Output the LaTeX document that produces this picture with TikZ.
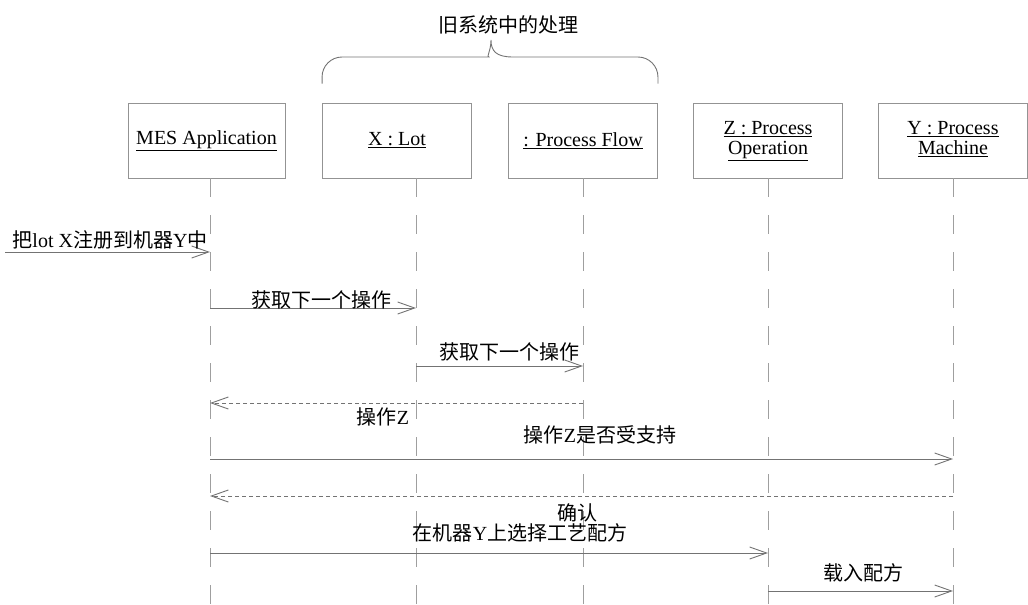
\documentclass[tikz,border=0pt]{standalone}
\usepackage{fontspec}
\setmainfont{Liberation Serif}
\newfontfamily\cjk{Noto Sans CJK SC}
\usetikzlibrary{arrows.meta, positioning, calc}
\newcommand{\zh}[1]{{\cjk #1}}
\newcommand{\twoline}[2]{\begin{tabular}{@{}c@{}}\underline{#1}\\\underline{#2}\end{tabular}}
\tikzset{
    lifebox/.style={
        rectangle, draw=gray!85, line width=0.9pt,
        minimum width=149pt, minimum height=75pt,
        align=center, inner sep=2pt,
        font=\fontsize{20}{20}\selectfont,
    },
    lifeline/.style={
        draw=gray!75, line width=0.9pt,
        dash pattern=on 19pt off 18pt,
    },
    msg/.style={
        -{Straight Barb[length=17pt, width=12pt]},
        draw=gray!90!black, line width=0.9pt,
    },
    reply/.style={
        msg, dash pattern=on 4pt off 3pt,
    },
    msglabel/.style={
        font=\fontsize{20}{20}\selectfont, inner sep=0pt,
    },
}

\begin{document}
\begin{tikzpicture}[x=1pt, y=-1pt]
    \useasboundingbox (0,0) rectangle (1028,605);

    % -- Lifeline heads --
    \node[lifebox, minimum width=157pt] (mes)  at (206.5,140.5) {\underline{MES Application}};
    \node[lifebox] (lot)  at (397,140.5) {\underline{X : Lot}};
    \node[lifebox] (flow) at (583,140.5) {\underline{: Process Flow}};
    \node[lifebox] (oper) at (768,140.5) {\twoline{Z : Process}{Operation}};
    \node[lifebox] (mach) at (953,140.5) {\twoline{Y : Process}{Machine}};

    % -- Lifelines --
    \coordinate (mes-top)  at (210,178);
    \coordinate (lot-top)  at (416,178);
    \coordinate (flow-top) at (flow.south);
    \coordinate (oper-top) at (oper.south);
    \coordinate (mach-top) at (mach.south);
    \foreach \who in {mes, lot, flow, oper, mach} {
        \coordinate (\who-end) at (\who-top |- 0,605);
        \draw[lifeline] (\who-top) -- (\who-end);
    }

    % -- Brace over the old system --
    \coordinate (tip) at (491,40);
    \coordinate (brace-l) at ([yshift=19pt]lot.north west);
    \coordinate (brace-r) at ([yshift=19pt]flow.north east);
    \draw[draw=gray!90!black, line width=0.9pt]
        (brace-l) [rounded corners=20pt] |- (469,57)
        [sharp corners] .. controls (486,57) and (491,51) .. (tip)
        .. controls (491,51) and (496,57) .. (513,57)
        [rounded corners=20pt] -| (brace-r);
    \node[msglabel] (old) at (508,25) {\zh{旧系统中的处理}};

    % -- Message rows --
    \coordinate (r1) at (0,252);
    \coordinate (r2) at (0,308);
    \coordinate (r3) at (0,366);
    \coordinate (r4) at (0,403);
    \coordinate (r5) at (0,459);
    \coordinate (r6) at (0,496);
    \coordinate (r7) at (0,553);
    \coordinate (r8) at (0,591);
    \coordinate (start) at (5,252);

    % -- Messages --
    \draw[msg]   (start)      -- (mes-top |- r1);
    \draw[msg]   (mes-top |- r2)  -- (lot-top |- r2);
    \draw[msg]   (lot-top |- r3)  -- (flow-top |- r3);
    \draw[reply] (flow-top |- r4) -- (mes-top |- r4);
    \draw[msg]   (mes-top |- r5)  -- (mach-top |- r5);
    \draw[reply] (mach-top |- r6) -- (mes-top |- r6);
    \draw[msg]   (mes-top |- r7)  -- (oper-top |- r7);
    \draw[msg]   (oper-top |- r8) -- (mach-top |- r8);

    % -- Message labels --
    \node[msglabel] (l1) at (110,240) {\zh{把}lot X\zh{注册到机器}Y\zh{中}};
    \node[msglabel] (l2) at (321,300) {\zh{获取下一个操作}};
    \node[msglabel] (l3) at (509,352) {\zh{获取下一个操作}};
    \node[msglabel] (l4) at (383,417) {\zh{操作}Z};
    \node[msglabel] (l5) at (600,435) {\zh{操作}Z\zh{是否受支持}};
    \node[msglabel] (l6) at (577,513) {\zh{确认}};
    \node[msglabel] (l7) at (520,533) {\zh{在机器}Y\zh{上选择工艺配方}};
    \node[msglabel] (l8) at (863,573) {\zh{载入配方}};

\end{tikzpicture}
\end{document}
